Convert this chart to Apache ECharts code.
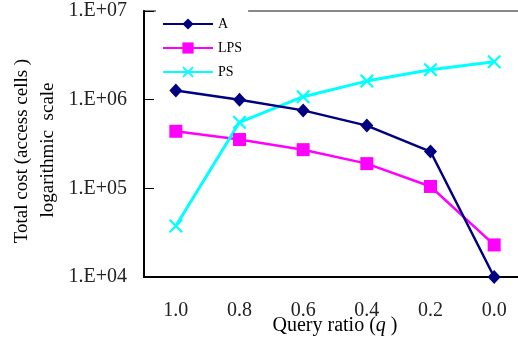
<!DOCTYPE html>
<html>
<head>
<meta charset="utf-8">
<script src="https://cdn.jsdelivr.net/npm/echarts@6/dist/echarts.min.js"></script>
<style>
  html, body { margin: 0; padding: 0; background: #fff; }
  #costChart { width: 518px; height: 343px; }
</style>
</head>
<body>
<div id="costChart"></div>
<script>
// query ratio categories (x axis, descending)
const categories = ['1.0', '0.8', '0.6', '0.4', '0.2', '0.0']
// total cost values
const seriesA = [1270000, 1000000, 757000, 510000, 260000, 10000]
const seriesLPS = [440000, 355000, 273000, 190000, 105000, 23000]
const seriesPS = [37600, 555000, 1080000, 1620000, 2180000, 2680000]
const seriesNames = ['A', 'LPS', 'PS']
const yTitle = ['Total cost (access cells )', 'logarithmic  scale']

const font = 'Liberation Serif'
const crossPath = 'path://M0,1.1L1.1,0L5,3.9L8.9,0L10,1.1L6.1,5L10,8.9L8.9,10L5,6.1L1.1,10L0,8.9L3.9,5Z'

function expLabel(v) {
  let p = Math.round(Math.log10(v))
  return '1.E+' + (p < 10 ? '0' + p : p)
}

const myChart = echarts.init(document.getElementById('costChart'))
const chartOption = {
  animation: false,
  color: ['#000080', '#FF00FF', '#00FFFF'],
  textStyle: { fontFamily: font },
  legend: {
    orient: 'vertical',
    left: 156,
    top: 8,
    padding: [9, 6, 4, 6],
    backgroundColor: '#fff',
    itemWidth: 50,
    itemHeight: 14,
    itemGap: 10,
    textStyle: { fontFamily: font, fontSize: 14, color: '#000' },
    data: seriesNames
  },
  // y axis title, two rotated lines
  graphic: [
    {
      type: 'text',
      x: 22,
      y: 151,
      rotation: Math.PI / 2,
      style: { text: yTitle[0], fontFamily: font, fontSize: 19, fill: '#000', align: 'center', verticalAlign: 'middle' }
    },
    {
      type: 'text',
      x: 48,
      y: 150,
      rotation: Math.PI / 2,
      style: { text: yTitle[1], fontFamily: font, fontSize: 19, fill: '#000', align: 'center', verticalAlign: 'middle' }
    }
  ],
  grid: {
    left: 144, top: 11, width: 382, height: 266,
    outerBoundsMode: 'none', containLabel: false,
    show: true, borderColor: '#888', borderWidth: 2, backgroundColor: 'transparent'
  },
  xAxis: {
    type: 'category',
    data: categories,
    boundaryGap: true,
    axisLine: { lineStyle: { color: '#000', width: 2 } },
    axisTick: { inside: true, length: 6, lineStyle: { color: '#000', width: 1 } },
    axisLabel: { margin: 24, fontFamily: font, fontSize: 20, color: '#222' },
    name: 'Query ratio ({i|q} )',
    nameLocation: 'middle',
    nameGap: 39,
    nameMoveOverlap: false,
    nameTextStyle: {
      fontFamily: font,
      fontSize: 20,
      color: '#000',
      rich: { i: { fontFamily: font, fontSize: 20, fontStyle: 'italic', color: '#000' } }
    },
    splitLine: { show: false }
  },
  yAxis: {
    type: 'log',
    logBase: 10,
    min: 10000,
    max: 10000000,
    axisLine: { show: true, lineStyle: { color: '#000', width: 2 } },
    axisTick: { show: true, inside: true, length: 10, lineStyle: { color: '#000', width: 1 } },
    axisLabel: { margin: 17, fontFamily: font, fontSize: 20, color: '#222', formatter: expLabel },
    splitLine: { show: false }
  },
  series: [
    {
      name: 'A',
      type: 'line',
      data: seriesA,
      symbol: 'diamond',
      symbolSize: [13, 14],
      lineStyle: { width: 2.5 },
      z: 3
    },
    {
      name: 'LPS',
      type: 'line',
      data: seriesLPS,
      symbol: 'rect',
      symbolSize: 13,
      lineStyle: { width: 2.5 },
      z: 2
    },
    {
      name: 'PS',
      type: 'line',
      data: seriesPS,
      symbol: crossPath,
      symbolSize: 14,
      lineStyle: { width: 3 },
      z: 2
    }
  ]
}
myChart.setOption(chartOption, true)
</script>
</body>
</html>
